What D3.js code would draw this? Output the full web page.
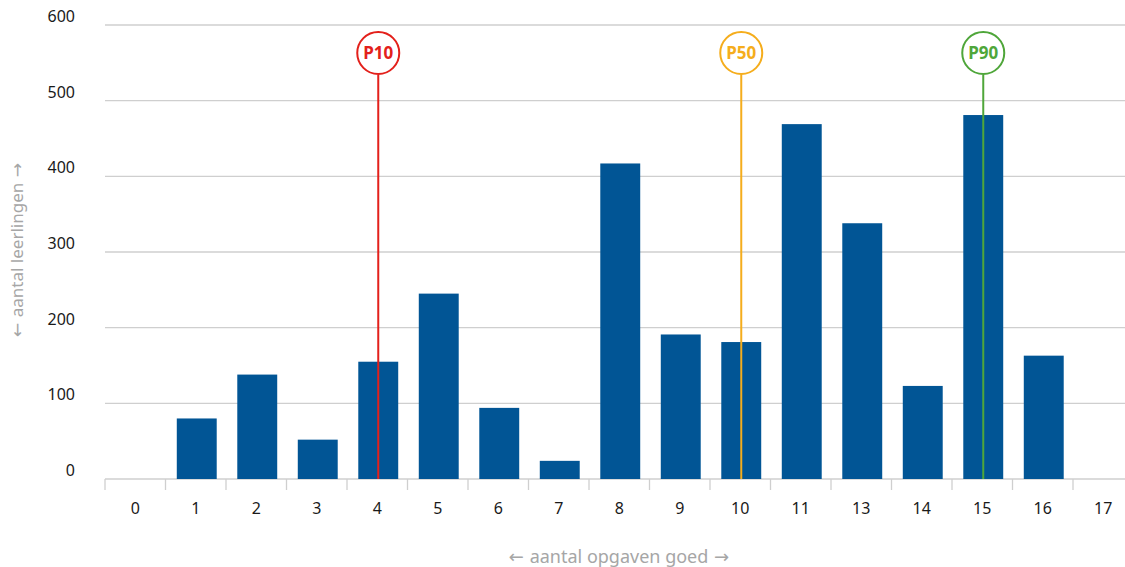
<!DOCTYPE html>
<html>
<head>
<meta charset="utf-8">
<script src="https://cdn.jsdelivr.net/npm/d3@7"></script>
<style>
  html, body { margin: 0; padding: 0; background: #fff; }
  #container { width: 1125px; height: 567px; }
  text { font-family: "Noto Sans", sans-serif; }
  .arr { font-family: "DejaVu Sans", sans-serif; }
</style>
</head>
<body>
<div id="container"></div>
<script>
var categories = ['0','1','2','3','4','5','6','7','8','9','10','11','13','14','15','16','17'];
var counts = [0, 80, 138, 52, 155, 245, 94, 24, 417, 191, 181, 469, 338, 123, 481, 163, 0];
var yTicks = [0, 100, 200, 300, 400, 500, 600];
var percLabels = ['P10', 'P50', 'P90'];
var percCats = ['4', '10', '15'];
var percColors = ['#e3201b', '#f5ad1c', '#4fa63a'];

var W = 1125, H = 567;
var svg = d3.select('#container').append('svg')
  .attr('width', W).attr('height', H);

var x = d3.scaleBand().domain(categories).range([105, 1133.5]).paddingInner(0.34).paddingOuter(0.17);
var y = d3.scaleLinear().domain([0, 600]).range([479, 25]);
var step = x.step();

// grid
svg.append('g').selectAll('line').data(yTicks).enter().append('line')
  .attr('x1', 105).attr('x2', W)
  .attr('y1', function(d) { return y(d); }).attr('y2', function(d) { return y(d); })
  .attr('stroke', '#cfcfcf').attr('stroke-width', 1.3);

// y labels
svg.append('g').selectAll('text').data(yTicks).enter().append('text')
  .attr('x', 75).attr('y', function(d) { return y(d) - 3; })
  .attr('text-anchor', 'end')
  .attr('font-size', 16).attr('fill', '#1a1a1a')
  .text(function(d) { return d; });

// bars
svg.append('g').attr('transform', 'translate(1,0)')
  .selectAll('rect').data(counts).enter().append('rect')
  .attr('x', function(d, i) { return x(categories[i]); })
  .attr('width', x.bandwidth())
  .attr('y', function(d) { return y(d); })
  .attr('height', function(d) { return y(0) - y(d); })
  .attr('fill', '#015595');

// x axis ticks between bands
var tickPos = d3.range(categories.length + 1).map(function(i) { return 105 + i * step; });
svg.append('g').selectAll('line').data(tickPos).enter().append('line')
  .attr('x1', function(d) { return d; }).attr('x2', function(d) { return d; })
  .attr('y1', 479).attr('y2', 490)
  .attr('stroke', '#cfcfcf').attr('stroke-width', 1.3);

svg.append('g').selectAll('text').data(categories).enter().append('text')
  .attr('x', function(d) { return x(d) + x.bandwidth() / 2; })
  .attr('y', 514)
  .attr('text-anchor', 'middle')
  .attr('font-size', 16).attr('fill', '#1a1a1a')
  .text(function(d) { return d; });

// percentile markers
var pg = svg.append('g').selectAll('g').data(percLabels).enter().append('g')
  .attr('transform', function(d, i) {
    return 'translate(' + (x(percCats[i]) + x.bandwidth() / 2 + 1) + ',0)';
  });
pg.append('line')
  .attr('x1', 0).attr('x2', 0).attr('y1', 75).attr('y2', y(0))
  .attr('stroke', function(d, i) { return percColors[i]; }).attr('stroke-width', 2);
pg.append('circle')
  .attr('cx', 0).attr('cy', 53).attr('r', 21)
  .attr('fill', '#fff')
  .attr('stroke', function(d, i) { return percColors[i]; }).attr('stroke-width', 2);
pg.append('text')
  .attr('x', 0).attr('y', 59)
  .attr('text-anchor', 'middle')
  .attr('font-size', 17).attr('font-weight', 'bold')
  .attr('fill', function(d, i) { return percColors[i]; })
  .text(function(d) { return d; });

// axis titles
function arrowTitle(sel, label) {
  sel.append('tspan').attr('class', 'arr').text('\u2190 ');
  sel.append('tspan').text(label);
  sel.append('tspan').attr('class', 'arr').text(' \u2192');
}

svg.append('text')
  .attr('transform', 'translate(23,250) rotate(-90)')
  .attr('text-anchor', 'middle')
  .attr('font-size', 17).attr('fill', '#a6a6a6')
  .call(arrowTitle, 'aantal leerlingen');

svg.append('text')
  .attr('x', 619).attr('y', 563)
  .attr('text-anchor', 'middle')
  .attr('font-size', 18).attr('fill', '#a6a6a6')
  .call(arrowTitle, 'aantal opgaven goed');
</script>
</body>
</html>
